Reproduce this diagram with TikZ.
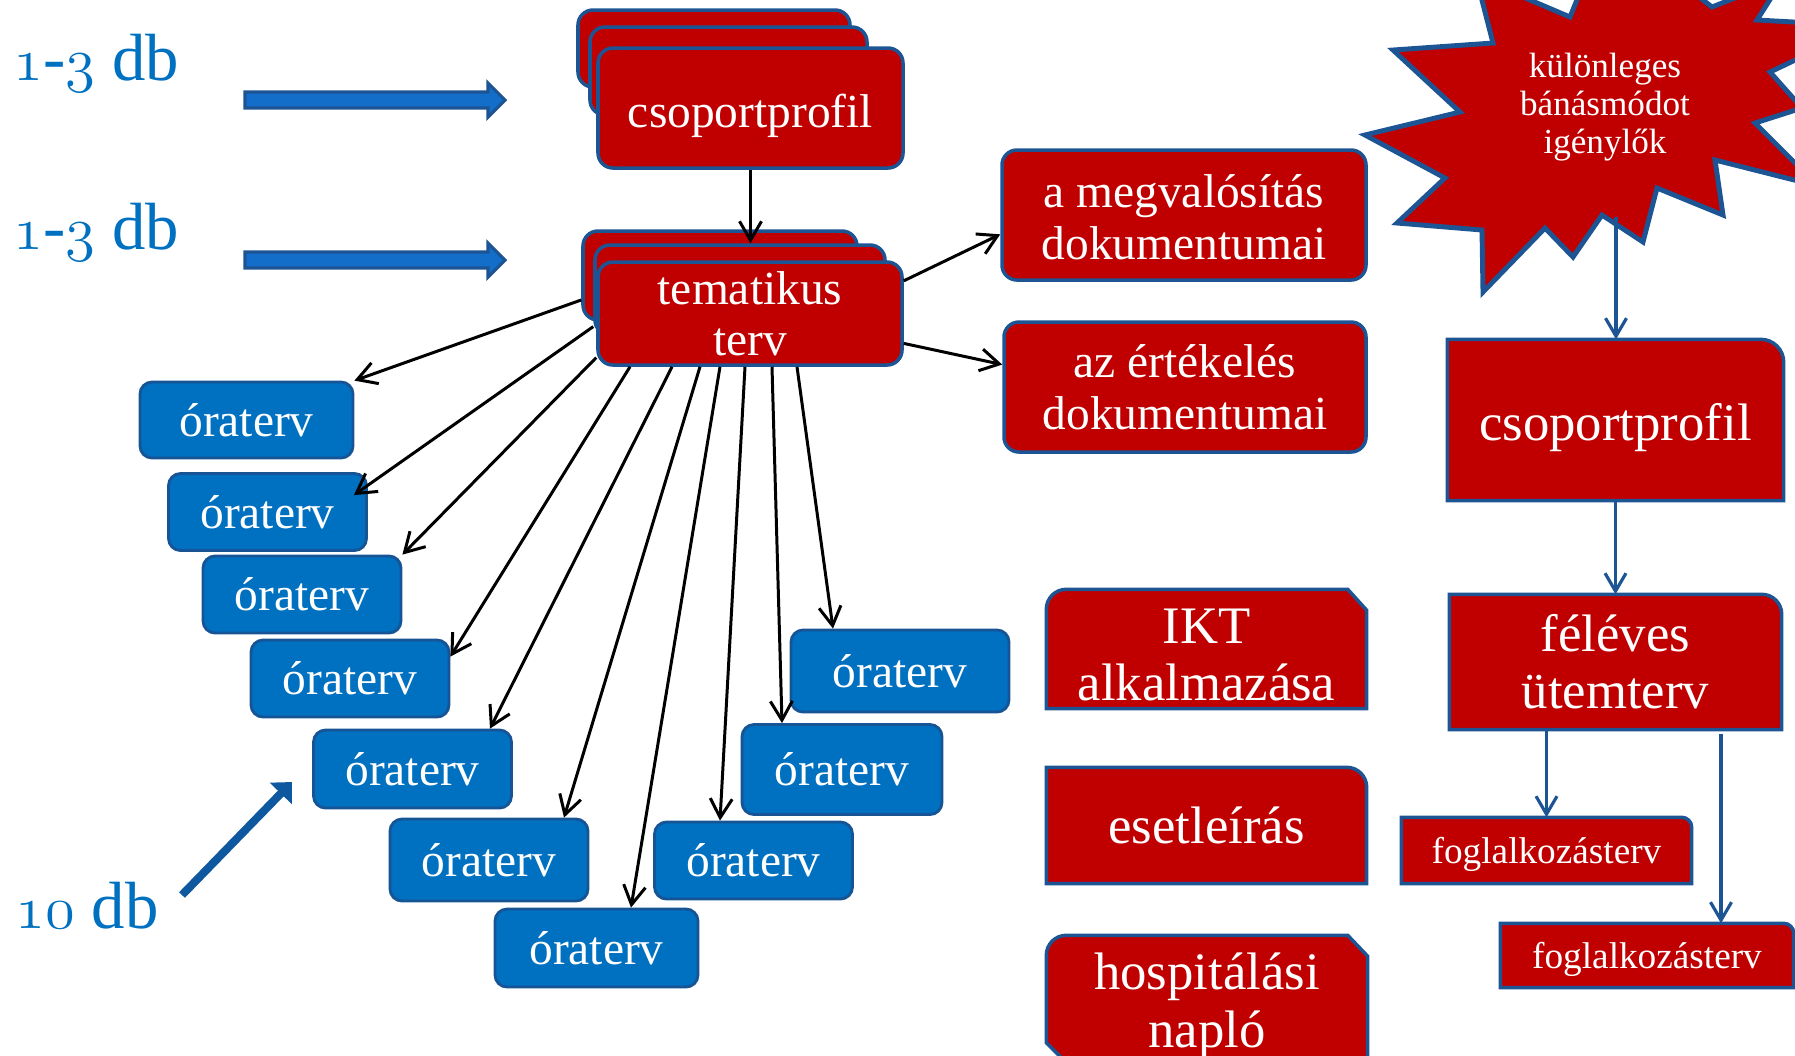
\documentclass[tikz,border=0pt]{standalone}
\usepackage{fontspec}
\setmainfont{Liberation Serif}
\usepackage{xcolor}
\usepackage{tikz}
\usetikzlibrary{arrows.meta, backgrounds, calc}

\definecolor{boxred}{RGB}{192,0,0}
\definecolor{boxedge}{RGB}{28,84,148}
\definecolor{orablue}{RGB}{0,112,192}
\definecolor{oraedge}{RGB}{22,84,150}
\definecolor{labelblue}{RGB}{0,112,192}
\definecolor{arrowfill}{RGB}{18,110,200}

% old style digits for the counts
\newcommand{\osnum}[1]{{\usefont{OML}{cmm}{m}{it}#1}}
% pushes a text line a bit lower in its box
\newcommand{\toppad}[1]{\rule{0pt}{#1}}

% red box with only the top right corner rounded
\newcommand{\onerounded}[2]{%
  \path[shapefill] (#1.south west) -- (#1.north west)
    -- ([xshift=-#2]#1.north east) arc[start angle=90, end angle=0, radius=#2]
    -- (#1.south east) -- cycle;}

% red box, top left rounded, top right cut off
\newcommand{\sniptop}[1]{%
  \path[shapefill] (#1.south west) -- ([yshift=-0.2cm]#1.north west)
    arc[start angle=180, end angle=90, radius=0.2cm]
    -- ([xshift=-0.19cm]#1.north east) -- ([yshift=-0.21cm]#1.north east)
    -- (#1.south east) -- cycle;}

% fat horizontal arrow: x from, x to, y
\newcommand{\fatarrow}[3]{%
  \path[blockarrow] (#1,#3+0.08) -- (#2-0.17,#3+0.08) -- (#2-0.17,#3+0.17)
    -- (#2,#3) -- (#2-0.17,#3-0.17) -- (#2-0.17,#3-0.08) -- (#1,#3-0.08) -- cycle;}

\tikzset{
  redbox/.style={draw=boxedge, fill=boxred, line width=1pt, rounded corners=0.15cm,
    text=white, align=center, inner sep=0pt, font=\fontsize{13.5}{14.5}\selectfont},
  orabox/.style={draw=oraedge, fill=orablue, line width=0.8pt, rounded corners=0.12cm,
    text=white, inner sep=0pt, minimum width=1.98cm, minimum height=0.77cm,
    font=\fontsize{13.5}{14.5}\selectfont},
  rightbox/.style={text=white, align=center, inner sep=0pt, font=\fontsize{15}{16.3}\selectfont},
  shapefill/.style={fill=boxred, draw=boxedge, line width=1pt, line join=miter},
  blockarrow/.style={fill=arrowfill, draw=boxedge, line width=0.9pt, line join=miter},
  dblabel/.style={text=labelblue, anchor=base west, inner sep=0pt, font=\fontsize{19}{20}\selectfont},
  ptr/.style={-{Straight Barb[length=1.9mm, width=2.2mm]}, line width=0.85pt},
  blueptr/.style={draw=boxedge, -{Straight Barb[length=1.8mm, width=2.1mm]}, line width=0.9pt},
}

\begin{document}
\begin{tikzpicture}
  \useasboundingbox (0,0) rectangle (17.95,-10.55);
  \clip (0,0) rectangle (17.95,-10.55);

  % counts on the left
  \node[dblabel] (lblcp) at (0.13,-0.80) {\osnum{1}-\osnum{3} db};
  \node[dblabel] (lbltt) at (0.13,-2.49) {\osnum{1}-\osnum{3} db};
  \node[dblabel] (lblora) at (0.15,-9.28) {\osnum{10} db};
  \fatarrow{2.45}{5.05}{-1.00}
  \fatarrow{2.45}{5.05}{-2.60}
  \coordinate (tenfrom) at (1.82,-8.95);
  \coordinate (tento) at (2.92,-7.82);
  \draw[draw=arrowfill!80!black, line width=2.3pt, -{Triangle[length=1.6mm, width=3mm]}] (tenfrom) -- (tento);

  % stacks
  \node[redbox, minimum width=2.72cm, minimum height=0.77cm] (cp3) at (7.14,-0.485) {};
  \node[redbox, minimum width=2.77cm, minimum height=0.88cm] (cp2) at (7.285,-0.71) {};
  \node[redbox, minimum width=3.05cm, minimum height=1.20cm] (cp) at (7.505,-1.08) {\toppad{13.9pt}csoportprofil};
  \node[redbox, minimum width=2.74cm, minimum height=0.89cm] (tt3) at (7.20,-2.755) {};
  \node[redbox, minimum width=2.90cm, minimum height=0.90cm] (tt2) at (7.40,-2.90) {};
  \node[redbox, minimum width=3.04cm, minimum height=1.03cm] (tt) at (7.50,-3.135) {tematikus\\terv};

  \node[redbox, minimum width=3.64cm, minimum height=1.30cm, font=\fontsize{13.5}{14.8}\selectfont] (megval) at (11.84,-2.15) {\toppad{10.5pt}a megvalósítás\\dokumentumai};
  \node[redbox, minimum width=3.62cm, minimum height=1.30cm, font=\fontsize{13.5}{14.8}\selectfont] (ertek) at (11.85,-3.87) {az értékelés\\dokumentumai};

  % lesson plans
  \node[orabox, minimum width=2.13cm, minimum height=0.76cm] (o1) at (2.465,-4.20) {óraterv};
  \node[orabox] (o2) at (2.675,-5.12) {óraterv};
  \node[orabox] (o3) at (3.02,-5.945) {óraterv};
  \node[orabox] (o4) at (3.50,-6.785) {óraterv};
  \node[orabox, minimum height=0.78cm] (o5) at (4.125,-7.69) {óraterv};
  \node[orabox, minimum height=0.82cm] (o6) at (4.89,-8.60) {óraterv};
  \node[orabox, minimum width=2.03cm, minimum height=0.78cm] (o7) at (5.965,-9.48) {óraterv};
  \node[orabox] (o8) at (7.535,-8.605) {óraterv};
  \node[orabox, minimum width=2.0cm, minimum height=0.9cm] (o9) at (8.42,-7.695) {óraterv};
  \node[orabox, minimum width=2.18cm, minimum height=0.82cm] (o10) at (9.00,-6.71) {óraterv};

  % right hand side
  \node[rightbox, font=\fontsize{10}{10.8}\selectfont] (burst) at (16.05,-1.07) {különleges\\bánásmódot\\igénylők};
  \coordinate (burstfoot) at (16.16,-2.17);
  \node[rightbox, minimum width=3.35cm, minimum height=1.60cm] (cpR) at (16.155,-4.20) {\toppad{14.85pt}csoportprofil};
  \node[rightbox, minimum width=3.31cm, minimum height=1.34cm] (felev) at (16.155,-6.62) {féléves\\ütemterv};
  \node[rightbox, minimum width=2.89cm, minimum height=0.65cm, font=\fontsize{10.6}{11}\selectfont] (fog1) at (15.465,-8.505) {\toppad{9.5pt}foglalkozásterv};
  \node[rightbox, minimum width=2.92cm, minimum height=0.63cm, font=\fontsize{10.6}{11}\selectfont] (fog2) at (16.47,-9.555) {\toppad{9.5pt}foglalkozásterv};
  \coordinate (fogtap) at (17.21,-7.34);

  \node[rightbox, minimum width=3.19cm, minimum height=1.18cm] (ikt) at (12.065,-6.49) {\toppad{13.3pt}IKT\\alkalmazása};
  \node[rightbox, minimum width=3.19cm, minimum height=1.15cm] (eset) at (12.065,-8.255) {esetleírás};
  \node[rightbox, minimum width=3.20cm, minimum height=1.24cm, font=\fontsize{15}{16.5}\selectfont] (hosp) at (12.07,-9.98) {\toppad{14.85pt}hospitálási\\napló};

  \begin{scope}[on background layer]
    \path[shapefill, line width=1.4pt] (13.93,-0.50) -- (14.93,-0.43) -- (14.76,0.23) -- (15.70,-0.17)
      -- (16.07,0.74) -- (17.12,-0.07) -- (17.83,0.21) -- (17.57,-0.20)
      -- (18.67,-0.26) -- (17.70,-0.72) -- (18.02,-1.08) -- (17.55,-1.23)
      -- (18.18,-1.86) -- (17.15,-1.60) -- (17.23,-2.15) -- (16.57,-1.88)
      -- (16.43,-2.42) -- (16.02,-2.15) -- (15.73,-2.57) -- (15.45,-2.28)
      -- (14.83,-2.92) -- (14.82,-2.30) -- (13.97,-2.23) -- (14.45,-1.78)
      -- (13.65,-1.35) -- (14.60,-1.12) -- cycle;
    \onerounded{cpR}{0.23cm}
    \onerounded{felev}{0.2cm}
    \onerounded{fog1}{0.1cm}
    \onerounded{fog2}{0.1cm}
    \onerounded{eset}{0.2cm}
    \sniptop{ikt}
    \path[shapefill] ([yshift=0.18cm]hosp.south west) -- ([yshift=-0.2cm]hosp.north west)
      arc[start angle=180, end angle=90, radius=0.2cm]
      -- ([xshift=-0.2cm]hosp.north east) -- ([yshift=-0.21cm]hosp.north east)
      -- (hosp.south east) -- ([xshift=0.18cm]hosp.south west) -- cycle;
  \end{scope}

  % black arrows
  \draw[ptr] (cp.south) -- (cp.south |- tt2.north);
  \draw[ptr] (tt.12) -- (megval.186);
  \draw[ptr] (tt.349) -- (ertek.173);
  \draw[ptr] (tt3.190) -- (o1.north east);
  \draw[ptr] (tt2.194) -- ([shift={(-0.14,-0.23)}]o2.north east);
  \draw[ptr] (tt.196) -- (o3.north east);
  \draw[ptr] ([xshift=-1.2cm]tt.south) -- ([yshift=-0.18cm]o4.north east);
  \foreach \src/\dst/\off in {-0.78cm/o5/0.775cm, -0.5cm/o6/0.75cm, -0.3cm/o7/0.345cm,
      -0.05cm/o8/-0.335cm, 0.22cm/o9/-0.6cm, 0.47cm/o10/-0.67cm}
    \draw[ptr] ([xshift=\src]tt.south) -- ([xshift=\off]\dst.north);

  % blue arrows
  \draw[blueptr] (burstfoot) -- (burstfoot |- cpR.north);
  \draw[blueptr] (cpR.south) -- (felev.north);
  \draw[blueptr] (fog1.north |- felev.south) -- (fog1.north);
  \draw[blueptr] (fogtap) -- (fogtap |- fog2.north);
\end{tikzpicture}
\end{document}
